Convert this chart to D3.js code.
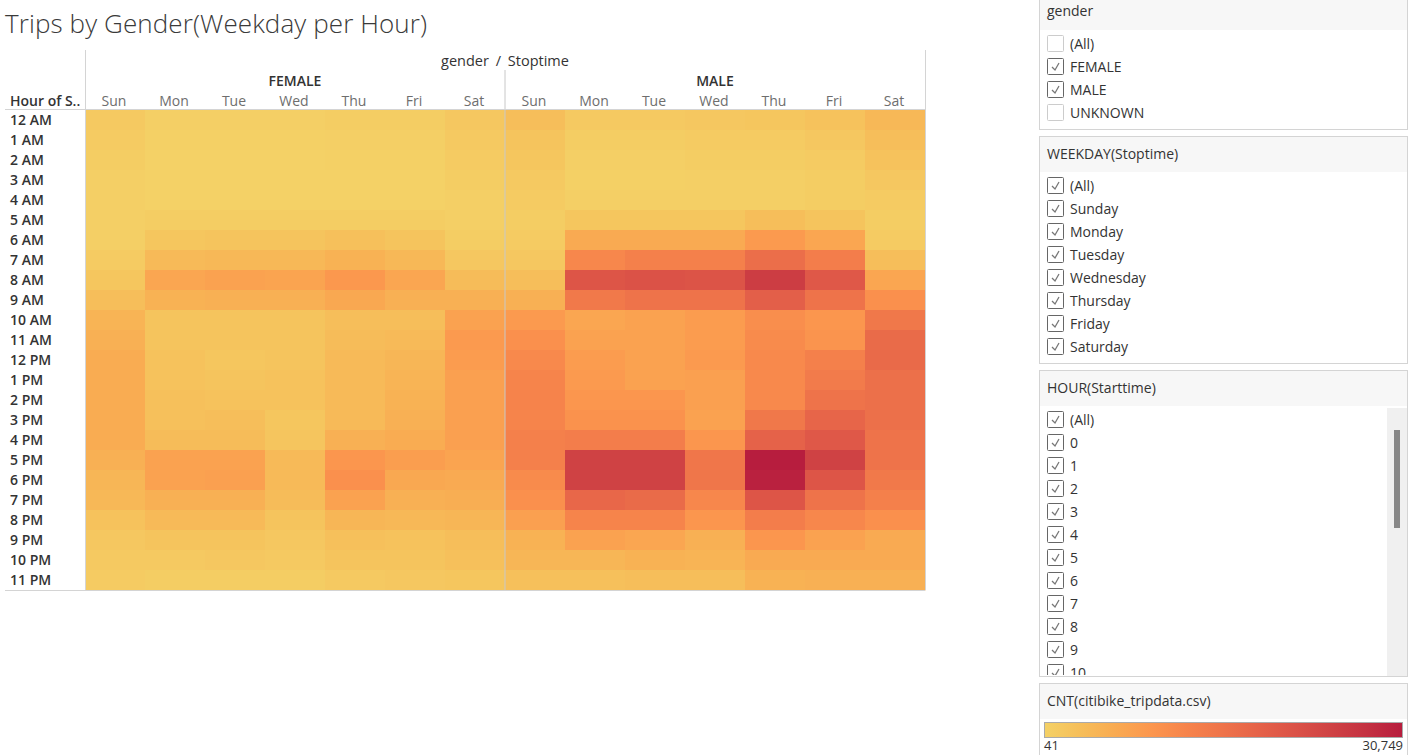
<!DOCTYPE html>
<html><head><meta charset="utf-8">
<script src="https://cdn.jsdelivr.net/npm/d3@7"></script>
<style>
html,body{margin:0;padding:0;background:#fff;}
svg{display:block;font-family:"Open Sans",sans-serif;}
</style></head>
<body><svg id="c" width="1411" height="755"></svg>
<script>
const genders = ["FEMALE", "MALE"];
const days = ["Sun", "Mon", "Tue", "Wed", "Thu", "Fri", "Sat"];
const hours = ["12 AM","1 AM","2 AM","3 AM","4 AM","5 AM","6 AM","7 AM","8 AM","9 AM","10 AM","11 AM",
  "12 PM","1 PM","2 PM","3 PM","4 PM","5 PM","6 PM","7 PM","8 PM","9 PM","10 PM","11 PM"];
// trip counts [day][hour]
const femaleCounts = [
  [1270,960,655,348,300,320,380,960,1880,3110,4650,5260,5880,5870,5860,5850,5880,5260,4340,4030,2500,1580,1270,960],
  [350,190,90,60,80,650,1880,3730,6800,4950,2190,2190,2500,2480,2800,2810,3420,7410,7400,5260,3730,2190,1270,650],
  [360,180,80,55,90,680,2190,4030,7410,5260,2190,2200,1880,2190,2500,3110,3420,7410,7720,5260,3730,2190,1580,660],
  [350,200,90,70,85,700,2190,4030,7100,5260,2190,2190,2200,2500,2490,1880,1900,3730,3720,3420,2190,1580,1270,660],
  [655,350,190,80,100,700,2800,4950,8950,6490,3110,3420,3730,3720,3730,3730,5260,9250,10180,7410,4340,2800,2190,1270],
  [660,340,190,90,90,640,2190,4030,6800,5260,3110,3730,4340,4650,4950,5260,5880,8030,6490,5260,4030,2500,2190,1580],
  [1580,1270,960,650,350,330,650,1580,3420,5260,7410,8640,8330,7720,7710,7700,7720,7100,6180,5570,4340,3110,2800,1880]
];
const maleCounts = [
  [3110,2190,1880,1270,960,655,960,1580,3110,5260,8640,10175,11400,12320,12330,12320,12940,12930,11100,10170,7720,4950,4340,2800],
  [1270,655,348,195,348,1880,6180,11710,20920,14170,6800,7410,8330,8640,9250,9870,13550,24600,24610,17545,12320,7410,4340,2800],
  [1270,655,348,195,348,1880,6180,12940,21540,15400,7410,7410,7410,7420,9250,9870,13550,24600,24610,16930,12320,6800,4950,3110],
  [1580,960,655,348,348,1880,6180,12940,21230,15400,8330,8330,8640,7720,7720,7410,9250,14780,14790,11710,9250,5260,4650,3110],
  [1880,960,655,348,348,3110,8640,16320,25530,19080,10480,11100,11400,11410,11400,14470,18470,30749,30130,20920,13550,9250,6180,4950],
  [2500,1580,960,655,655,2190,6800,13550,20310,15400,9250,9560,12940,13860,15400,17850,20310,24600,20920,15390,11710,7410,6180,5260],
  [4030,3110,2500,1580,960,655,960,3110,6800,10170,14470,16930,16940,16010,16000,16010,15400,15390,14170,12940,10170,6180,6180,5260]
];
const countsByGender = [femaleCounts, maleCounts];
const colorStops = ["#f4d166","#f6be59","#f9aa51","#fc964e","#f6834b","#ee734a","#e56249","#db5247","#cf4244","#c43141","#b71d3e"];
const legendMin = 41, legendMax = 30749;
const genderFilter = [["(All)", false], ["FEMALE", true], ["MALE", true], ["UNKNOWN", false]];
const weekdayFilter = ["(All)","Sunday","Monday","Tuesday","Wednesday","Thursday","Friday","Saturday"];
const hourFilter = ["(All)","0","1","2","3","4","5","6","7","8","9","10"];

const svg = d3.select("#c");
const color = d3.scaleSequential(d3.interpolateRgbBasis(colorStops)).domain([legendMin, legendMax]);

// layout
const gx0 = 85, gx1 = 925, gy0 = 110, gy1 = 590;
const xGender = d3.scaleBand().domain(genders).range([gx0, gx1]);
const xDay = d3.scaleBand().domain(days).range([0, xGender.bandwidth()]);
const y = d3.scaleBand().domain(hours).range([gy0, gy1]);

const cells = [];
genders.forEach((g, gi) => days.forEach((d, di) => hours.forEach((h, hi) => {
  cells.push({g, d, h, v: countsByGender[gi][di][hi]});
})));

svg.append("text").attr("x", 5).attr("y", 33).attr("font-size", 26).attr("fill", "#3a3a3a")
  .attr("font-weight", 300).attr("letter-spacing", 0.1).text("Trips by Gender(Weekday per Hour)");

svg.append("g").selectAll("rect").data(cells).join("rect")
  .attr("x", c => xGender(c.g) + xDay(c.d))
  .attr("y", c => y(c.h))
  .attr("width", xDay.bandwidth() + 0.5)
  .attr("height", y.bandwidth() + 0.5)
  .attr("fill", c => color(c.v));

const lineC = "#d4d4d4";
svg.append("line").attr("x1", gx0 + 0.5).attr("x2", gx0 + 0.5).attr("y1", 50).attr("y2", gy1).attr("stroke", lineC);
svg.append("line").attr("x1", gx1 + 0.5).attr("x2", gx1 + 0.5).attr("y1", 50).attr("y2", gy1).attr("stroke", lineC);
svg.append("line").attr("x1", xGender("MALE")).attr("x2", xGender("MALE")).attr("y1", 70).attr("y2", gy1).attr("stroke", "#c8c8c8");
svg.append("line").attr("x1", 5).attr("x2", gx1).attr("y1", gy0 - 0.5).attr("y2", gy0 - 0.5).attr("stroke", lineC);
svg.append("line").attr("x1", 5).attr("x2", gx1).attr("y1", gy1 + 0.5).attr("y2", gy1 + 0.5).attr("stroke", lineC);

svg.append("text").attr("x", (gx0 + gx1) / 2).attr("y", 66).attr("text-anchor", "middle")
  .attr("font-size", 14.5).attr("word-spacing", 3).attr("fill", "#333").text("gender / Stoptime");
svg.append("g").selectAll("text").data(genders).join("text")
  .attr("x", g => xGender(g) + xGender.bandwidth() / 2).attr("y", 86).attr("text-anchor", "middle")
  .attr("font-size", 14).attr("font-weight", 600).attr("fill", "#333").text(g => g);
genders.forEach(g => {
  svg.append("g").selectAll("text").data(days).join("text")
    .attr("x", d => xGender(g) + xDay(d) + xDay.bandwidth() / 2 - 1).attr("y", 106).attr("text-anchor", "middle")
    .attr("font-size", 14).attr("fill", "#6e6e6e").text(d => d);
});
svg.append("text").attr("x", 10).attr("y", 106).attr("font-size", 14).attr("font-weight", 600)
  .attr("fill", "#333").text("Hour of S..");
svg.append("g").selectAll("text").data(hours).join("text")
  .attr("x", 10).attr("y", h => y(h) + y.bandwidth() / 2 + 5)
  .attr("font-size", 14).attr("font-weight", 600).attr("fill", "#333").text(h => h);

// side panels
const px0 = 1039.5, px1 = 1407.5;
function panel(top, bottom, headerBottom, title) {
  svg.append("rect").attr("x", px0).attr("y", top + 0.5).attr("width", px1 - px0).attr("height", bottom - top)
    .attr("fill", "#fff").attr("stroke", lineC);
  svg.append("rect").attr("x", px0 + 0.5).attr("y", top + 1).attr("width", px1 - px0 - 1).attr("height", headerBottom - top - 1)
    .attr("fill", "#f7f7f7");
  svg.append("text").attr("x", 1047).attr("y", (top + headerBottom) / 2 + 5).attr("font-size", 14).attr("fill", "#333").text(title);
}
function checkItems(items, y0) {
  const g = svg.append("g");
  const it = g.selectAll("g").data(items).join("g").attr("transform", (d, i) => `translate(0,${y0 + i * 23})`);
  it.append("rect").attr("x", 1047.5).attr("y", -8.5).attr("width", 16).attr("height", 16).attr("rx", 1)
    .attr("fill", "#fff").attr("stroke", d => d[1] ? "#666" : "#ccc");
  it.filter(d => d[1]).append("path").attr("d", "M1052,0 L1055,3 L1059,-4").attr("fill", "none")
    .attr("stroke", "#777").attr("stroke-width", 1.3);
  it.append("text").attr("x", 1070).attr("y", 5).attr("font-size", 14).attr("fill", "#333").text(d => d[0]);
}
panel(-8, 129, 30, "gender");
checkItems(genderFilter, 44);
panel(136, 363, 172, "WEEKDAY(Stoptime)");
checkItems(weekdayFilter.map(d => [d, true]), 186);
panel(370, 676, 406, "HOUR(Starttime)");
svg.append("clipPath").attr("id", "hc").append("rect").attr("x", 1040).attr("y", 407).attr("width", 347).attr("height", 268);
const hg = svg.append("g").attr("clip-path", "url(#hc)");
{
  const it = hg.selectAll("g").data(hourFilter).join("g").attr("transform", (d, i) => `translate(0,${420 + i * 23})`);
  it.append("rect").attr("x", 1047.5).attr("y", -8.5).attr("width", 16).attr("height", 16).attr("rx", 1)
    .attr("fill", "#fff").attr("stroke", "#666");
  it.append("path").attr("d", "M1052,0 L1055,3 L1059,-4").attr("fill", "none").attr("stroke", "#777").attr("stroke-width", 1.3);
  it.append("text").attr("x", 1070).attr("y", 5).attr("font-size", 14).attr("fill", "#333").text(d => d);
}
svg.append("rect").attr("x", 1387).attr("y", 408).attr("width", 20).attr("height", 268).attr("fill", "#f0f0f0");
svg.append("rect").attr("x", 1394).attr("y", 430).attr("width", 6).attr("height", 98).attr("fill", "#888");
panel(683, 760, 719, "CNT(citibike_tripdata.csv)");
const grad = svg.append("defs").append("linearGradient").attr("id", "lg");
grad.selectAll("stop").data(colorStops).join("stop")
  .attr("offset", (d, i) => i / (colorStops.length - 1)).attr("stop-color", d => d);
const lx = d3.scaleLinear().domain([legendMin, legendMax]).range([1044, 1403]);
svg.append("rect").attr("x", lx(legendMin) + 0.5).attr("y", 722.5).attr("width", lx(legendMax) - lx(legendMin) - 1).attr("height", 15)
  .attr("fill", "url(#lg)").attr("stroke", "#aaa");
svg.append("text").attr("x", lx(legendMin)).attr("y", 750).attr("font-size", 13).attr("fill", "#333").text(d3.format(",")(legendMin));
svg.append("text").attr("x", lx(legendMax)).attr("y", 750).attr("text-anchor", "end").attr("font-size", 13).attr("fill", "#333").text(d3.format(",")(legendMax));
</script></body></html>
